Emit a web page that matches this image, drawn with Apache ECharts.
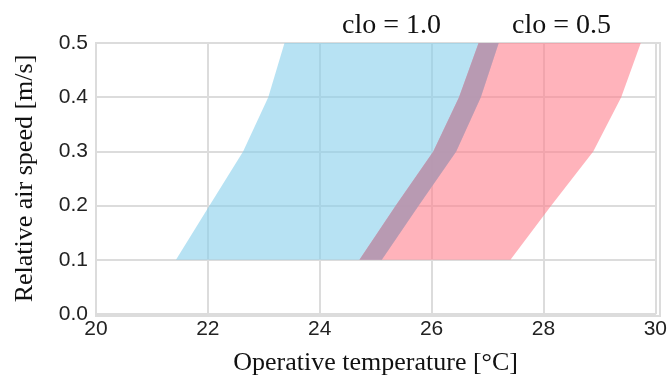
<!DOCTYPE html>
<html>
<head>
<meta charset="utf-8">
<script src="https://cdn.jsdelivr.net/npm/echarts@6/dist/echarts.min.js"></script>
<style>
  html, body { margin: 0; padding: 0; background: #fff; }
  #chart { width: 670px; height: 381px; }
</style>
</head>
<body>
<div id="chart"></div>
<script>
// air speed levels [m/s]
const speeds = [0.1, 0.2, 0.3, 0.4, 0.5];
// comfort zone boundaries, operative temperature [°C]
const clo10Low = [21.43, 22.03, 22.63, 23.08, 23.37];
const clo10High = [25.11, 25.77, 26.44, 26.88, 27.2];
const clo05Low = [24.71, 25.36, 26.03, 26.49, 26.84];
const clo05High = [27.41, 28.14, 28.89, 29.39, 29.74];
const zoneNames = ["clo = 1.0", "clo = 0.5"];

function zone(low, high) {
  const pts = speeds.map((s, i) => [low[i], s]);
  for (let i = speeds.length - 1; i >= 0; i--) pts.push([high[i], speeds[i]]);
  return pts;
}

function polySeries(name, pts, color) {
  return {
    name: name,
    type: "custom",
    coordinateSystem: "cartesian2d",
    silent: true,
    data: pts,
    renderItem: function (params, api) {
      if (params.dataIndex !== 0) return;
      return {
        type: "polygon",
        shape: { points: pts.map(p => api.coord(p)) },
        style: { fill: color },
      };
    },
  };
}

const chart = echarts.init(document.getElementById("chart"));
const axisGray = "#dcdcdc";
chart.setOption({
  animation: false,
  grid: { left: 96, right: 10, top: 43, bottom: 65 },
  xAxis: {
    type: "value",
    min: 20,
    max: 30,
    interval: 2,
    name: "Operative temperature [°C]",
    nameLocation: "middle",
    nameGap: 36,
    nameTextStyle: { fontFamily: "Liberation Serif", fontSize: 26, color: "#111" },
    axisLine: { show: true, lineStyle: { color: axisGray, width: 2 } },
    axisTick: { show: false },
    axisLabel: { fontFamily: "Liberation Sans", fontSize: 21, color: "#222", margin: 5 },
    splitLine: { show: true, lineStyle: { color: axisGray, width: 2 } },
  },
  yAxis: {
    type: "value",
    min: 0,
    max: 0.5,
    interval: 0.1,
    name: "Relative air speed [m/s]",
    nameLocation: "middle",
    nameGap: 58,
    nameTextStyle: { fontFamily: "Liberation Serif", fontSize: 26, color: "#111" },
    axisLine: { show: true, lineStyle: { color: axisGray, width: 2 } },
    axisTick: { show: false },
    axisLabel: {
      fontFamily: "Liberation Sans",
      fontSize: 21,
      color: "#222",
      margin: 8,
      formatter: v => v.toFixed(1),
    },
    splitLine: { show: true, lineStyle: { color: axisGray, width: 2 } },
  },
  graphic: [
    { type: "rect", shape: { x: 96, y: 43, width: 564, height: 273 },
      style: { fill: "none", stroke: axisGray, lineWidth: 2 }, silent: true, z: 0 },
    { type: "text", left: 342, top: 12,
      style: { text: zoneNames[0], font: "28px 'Liberation Serif'", fill: "#111" } },
    { type: "text", left: 512, top: 12,
      style: { text: zoneNames[1], font: "28px 'Liberation Serif'", fill: "#111" } },
  ],
  series: [
    polySeries(zoneNames[0], zone(clo10Low, clo10High), "rgba(135,206,235,0.6)"),
    polySeries(zoneNames[1], zone(clo05Low, clo05High), "rgba(255,128,142,0.6)"),
    // overlap of both zones: bounded by clo 0.5 lower and clo 1.0 upper limits
    polySeries("overlap", zone(clo05Low, clo10High), "rgba(174,151,177,0.8)"),
  ],
});
</script>
</body>
</html>
